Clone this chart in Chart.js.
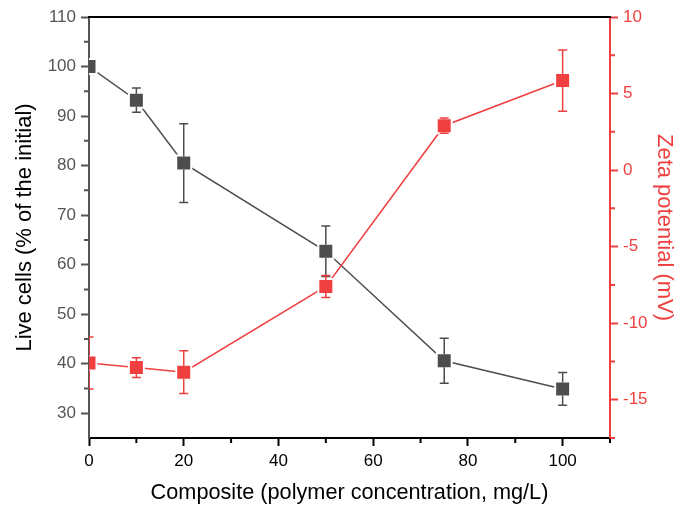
<!DOCTYPE html>
<html>
<head>
<meta charset="utf-8">
<script src="https://cdn.jsdelivr.net/npm/chart.js@4.4.0/dist/chart.umd.min.js"></script>
<style>
  html, body { margin: 0; padding: 0; background: #fff; }
</style>
</head>
<body>
<canvas id="chart-cells-zeta" width="690" height="506"></canvas>
<script>
// polymer concentration (mg/L)
const concentration = [0, 10, 20, 50, 75, 100];

// live cells, % of the initial (left axis)
const liveCells = [100, 93.2, 80.5, 62.7, 40.6, 34.9];
const liveCellsErr = [0, 2.45, 7.95, 5.1, 4.55, 3.3];

// zeta potential, mV (right axis)
const zeta = [-12.6, -12.9, -13.2, -7.6, 2.9, 5.85];
const zetaErr = [1.7, 0.65, 1.4, 0.72, 0.5, 2.0];

// tick values
const xTicks = [0, 20, 40, 60, 80, 100];
const xMinorTicks = [10, 30, 50, 70, 90, 110];
const cellTicks = [30, 40, 50, 60, 70, 80, 90, 100, 110];
const cellMinorTicks = [35, 45, 55, 65, 75, 85, 95, 105];
const zetaTicks = [-15, -10, -5, 0, 5, 10];
const zetaMinorTicks = [-17.5, -12.5, -7.5, -2.5, 2.5, 7.5];

const GREY = "#4d4d4d";
const AXIS_GREY = "#555555";
const RED = "#ef3f3f";

Chart.defaults.font.family = "'Liberation Sans', Arial, sans-serif";

// error bars + minor ticks + top frame line
const extras = {
  id: "extras",
  afterDatasetsDraw(chart) {
    const ctx = chart.ctx;
    const a = chart.chartArea;
    const half = 6.5;
    ctx.save();
    ctx.beginPath();
    ctx.rect(a.left, a.top, a.right - a.left, a.bottom - a.top);
    ctx.clip();
    chart.data.datasets.forEach((ds, i) => {
      const meta = chart.getDatasetMeta(i);
      const ys = chart.scales[ds.yAxisID];
      ctx.strokeStyle = ds.borderColor;
      ctx.lineWidth = 1.5;
      meta.data.forEach((pt, j) => {
        const e = ds.errors[j];
        if (!e) return;
        const v = ds.data[j].y;
        const top = ys.getPixelForValue(v + e);
        const bot = ys.getPixelForValue(v - e);
        ctx.beginPath();
        if (top < pt.y - half) {
          ctx.moveTo(pt.x, top);
          ctx.lineTo(pt.x, pt.y - half);
        }
        if (bot > pt.y + half) {
          ctx.moveTo(pt.x, pt.y + half);
          ctx.lineTo(pt.x, bot);
        }
        [top, bot].forEach(c => {
          if (Math.abs(c - pt.y) < half) return;
          ctx.moveTo(pt.x - 4.5, c);
          ctx.lineTo(pt.x + 4.5, c);
        });
        ctx.stroke();
      });
    });
    ctx.restore();
  },
  afterDraw(chart) {
    const ctx = chart.ctx;
    const a = chart.chartArea;
    const { x, yCells, yZeta } = chart.scales;
    const minor = 5;
    ctx.save();
    ctx.lineWidth = 2;

    ctx.strokeStyle = "#000";
    ctx.beginPath();
    ctx.moveTo(a.left - 1, a.top);
    ctx.lineTo(a.right + 1, a.top);
    xMinorTicks.forEach(v => {
      const px = x.getPixelForValue(v);
      ctx.moveTo(px, a.bottom);
      ctx.lineTo(px, a.bottom + minor);
    });
    ctx.stroke();

    ctx.strokeStyle = AXIS_GREY;
    ctx.beginPath();
    cellMinorTicks.forEach(v => {
      const py = yCells.getPixelForValue(v);
      ctx.moveTo(a.left, py);
      ctx.lineTo(a.left - minor, py);
    });
    ctx.stroke();

    ctx.strokeStyle = RED;
    ctx.beginPath();
    zetaMinorTicks.forEach(v => {
      const py = yZeta.getPixelForValue(v);
      ctx.moveTo(a.right, py);
      ctx.lineTo(a.right + minor, py);
    });
    ctx.stroke();
    ctx.restore();
  }
};

new Chart(document.getElementById("chart-cells-zeta"), {
  type: "line",
  data: {
    datasets: [
      {
        label: "Live cells",
        data: concentration.map((c, i) => ({ x: c, y: liveCells[i] })),
        errors: liveCellsErr,
        yAxisID: "yCells",
        borderColor: GREY,
        backgroundColor: GREY,
        borderWidth: 1.5,
        pointStyle: "rect",
        pointRadius: 10.6,
        pointBackgroundColor: GREY,
        pointBorderColor: "#fff",
        pointBorderWidth: 2,
        clip: 0,
        order: 2,
      },
      {
        label: "Zeta potential",
        data: concentration.map((c, i) => ({ x: c, y: zeta[i] })),
        errors: zetaErr,
        yAxisID: "yZeta",
        borderColor: RED,
        backgroundColor: RED,
        borderWidth: 1.5,
        pointStyle: "rect",
        pointRadius: 10.6,
        pointBackgroundColor: RED,
        pointBorderColor: "#fff",
        pointBorderWidth: 2,
        clip: 0,
        order: 1,
      },
    ],
  },
  options: {
    responsive: false,
    animation: false,
    events: [],
    layout: { padding: { top: 17, left: 0, right: 0, bottom: 0 } },
    plugins: {
      legend: { display: false },
      tooltip: { enabled: false },
    },
    scales: {
      x: {
        type: "linear",
        position: "bottom",
        min: 0,
        max: 110,
        afterBuildTicks: s => { s.ticks = xTicks.map(v => ({ value: v })); },
        afterFit: s => { s.height = 68; },
        grid: { drawOnChartArea: false, tickLength: 8, tickColor: "#000", tickWidth: 2 },
        border: { color: "#000", width: 2 },
        ticks: { color: "#000", font: { size: 17 }, padding: 5, maxRotation: 0, autoSkip: false },
        title: {
          display: true,
          text: "Composite (polymer concentration, mg/L)",
          color: "#000",
          font: { size: 21.7 },
          padding: { top: 0, bottom: 0 },
        },
      },
      yCells: {
        type: "linear",
        position: "left",
        min: 25,
        max: 110,
        afterBuildTicks: s => { s.ticks = cellTicks.map(v => ({ value: v })); },
        afterFit: s => { s.width = 89; },
        grid: { drawOnChartArea: false, tickLength: 8, tickColor: AXIS_GREY, tickWidth: 2 },
        border: { color: AXIS_GREY, width: 2 },
        ticks: { color: AXIS_GREY, font: { size: 17 }, padding: 5 },
        title: {
          display: true,
          text: "Live cells (% of the initial)",
          color: "#000",
          font: { size: 22 },
          padding: { top: 12, bottom: 0 },
        },
      },
      yZeta: {
        type: "linear",
        position: "right",
        min: -17.5,
        max: 10,
        afterBuildTicks: s => { s.ticks = zetaTicks.map(v => ({ value: v })); },
        afterFit: s => { s.width = 80; },
        grid: { drawOnChartArea: false, tickLength: 8, tickColor: RED, tickWidth: 2 },
        border: { color: RED, width: 2 },
        ticks: { color: RED, font: { size: 17 }, padding: 5 },
        title: {
          display: true,
          text: "Zeta potential (mV)",
          color: RED,
          font: { size: 22 },
          padding: { top: 13, bottom: 0 },
        },
      },
    },
  },
  plugins: [extras],
});
</script>
</body>
</html>
